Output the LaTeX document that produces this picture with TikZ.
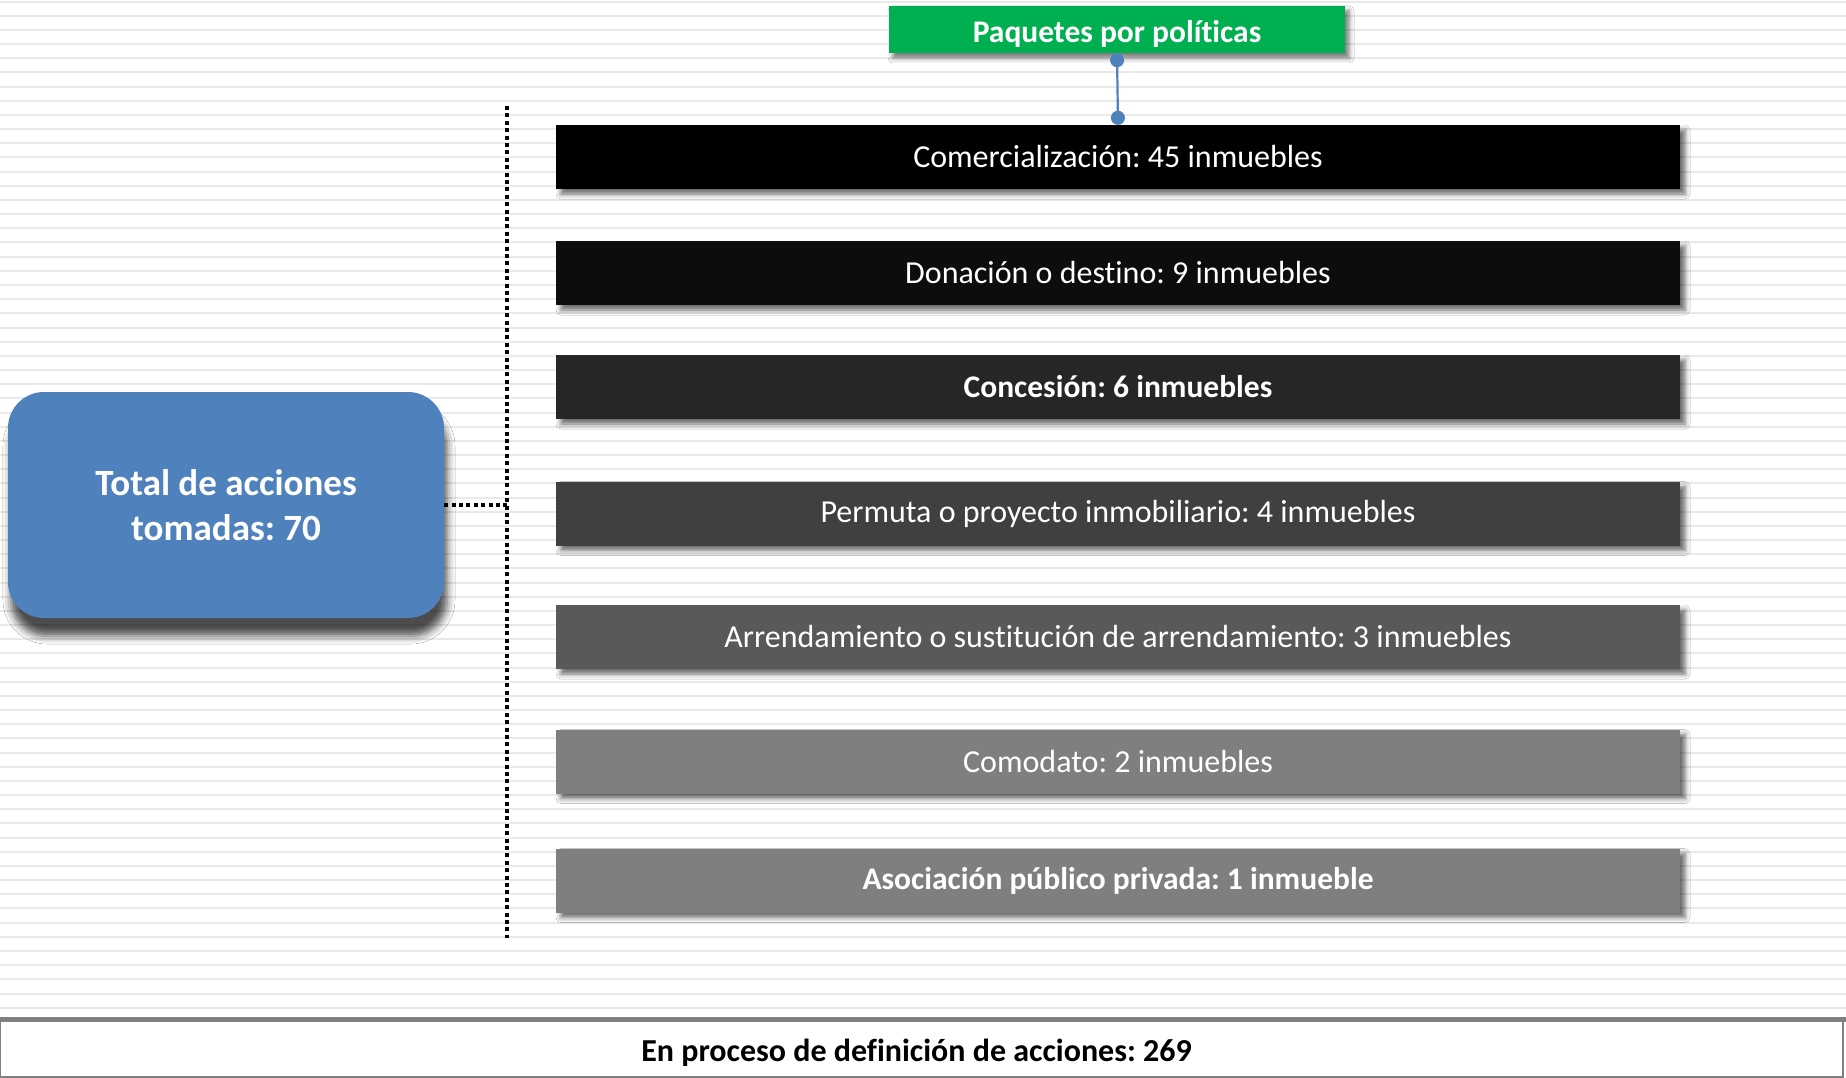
\documentclass[tikz,border=0pt]{standalone}
\usepackage{fontspec}
\setmainfont{Carlito}[Ligatures=NoCommon]
\frenchspacing
\usetikzlibrary{shadows.blur,arrows.meta}
\definecolor{pgreen}{HTML}{00B050}
\definecolor{pblue}{HTML}{4F81BD}
\definecolor{stripecol}{HTML}{E9E9E9}
\definecolor{cA}{HTML}{000000}
\definecolor{cB}{HTML}{0D0D0D}
\definecolor{cC}{HTML}{262626}
\definecolor{cD}{HTML}{404040}
\definecolor{cE}{HTML}{595959}
\definecolor{cF}{HTML}{7F7F7F}
\definecolor{edgegray}{HTML}{808080}
\tikzset{
  stripe/.style={stripecol, line width=2pt},
  bar/.style={rectangle, minimum width=1124pt, minimum height=64pt, inner sep=0pt,
    text=white, font=\fontsize{32}{38}\selectfont,
    blur shadow={shadow xshift=5pt, shadow yshift=-5pt, shadow blur radius=5pt, shadow opacity=60}},
  boldbar/.style={bar, font=\fontsize{31.5}{38}\selectfont\bfseries},
  titlebox/.style={rectangle, fill=pgreen, minimum width=456pt, minimum height=47pt, inner sep=0pt,
    text=white, font=\fontsize{31.5}{38}\selectfont\bfseries,
    blur shadow={shadow xshift=4pt, shadow yshift=-5pt, shadow blur radius=5pt, shadow opacity=55}},
  totalbox/.style={rectangle, rounded corners=36pt, fill=pblue, minimum width=436pt, minimum height=226pt,
    inner sep=0pt, text=white, align=center, font=\fontsize{37}{45}\selectfont\bfseries,
    blur shadow={shadow xshift=3pt, shadow yshift=-18pt, shadow blur radius=8pt, shadow opacity=70}},
  conn/.style={pblue, line width=2.2pt, {Circle[length=14pt]}-{Circle[length=14pt]}},
  dotline/.style={black, line width=4.5pt, dash pattern=on 4pt off 3.4pt},
  pendbox/.style={rectangle, fill=white, draw=edgegray, line width=1.5pt, minimum width=1843pt,
    minimum height=56pt, inner sep=0pt, font=\fontsize{32}{38}\selectfont\bfseries}
}
\begin{document}
\begin{tikzpicture}[x=1pt,y=-1pt]
\useasboundingbox (0,0) rectangle (1846,1078);
\fill[white] (0,0) rectangle (1846,1078);
\foreach \i in {0,...,71} \draw[stripe] (0,{1.6+14.17*\i}) -- (1846,{1.6+14.17*\i});

% bars
\node[bar, fill=cA] (b1) at (1118,157) {Comercialización: 45 inmuebles};
\node[bar, fill=cB] (b2) at (1118,273) {Donación o destino: 9 inmuebles};
\node[boldbar, fill=cC] (b3) at (1118,387) {Concesión: 6 inmuebles};
\node[bar, fill=cD] (b4) at (1118,513.5) {Permuta o proyecto inmobiliario: 4 inmuebles};
\node[bar, fill=cE] (b5) at (1118,637) {Arrendamiento o sustitución de arrendamiento: 3 inmuebles};
\node[bar, fill=cF] (b6) at (1118,761.5) {Comodato: 2 inmuebles};
\node[boldbar, fill=cF] (b7) at (1118,880.5) {Asociación público privada: 1 inmueble};

% title
\node[titlebox] (pol) at (1117,29.5) {\raisebox{-13pt}[0pt][0pt]{Paquetes por políticas}};
\draw[conn] (pol.south) -- (b1.north);

% total
\node[totalbox] (total) at (226,505) {Total de acciones\\tomadas: 70};
\coordinate (vt) at (507,106);
\coordinate (vb) at (507,938);
\draw[dotline] (vt) -- (vb);
\draw[dotline] (total.east) -- (total.east -| vt);

% bottom
\node[pendbox] (pend) at (921.5,1049) {\hspace*{-10pt}\raisebox{-12pt}[0pt][0pt]{En proceso de definición de acciones: 269}};
\draw[edgegray, line width=5pt] (0,1019.5) -- (1846,1019.5);
\end{tikzpicture}
\end{document}
